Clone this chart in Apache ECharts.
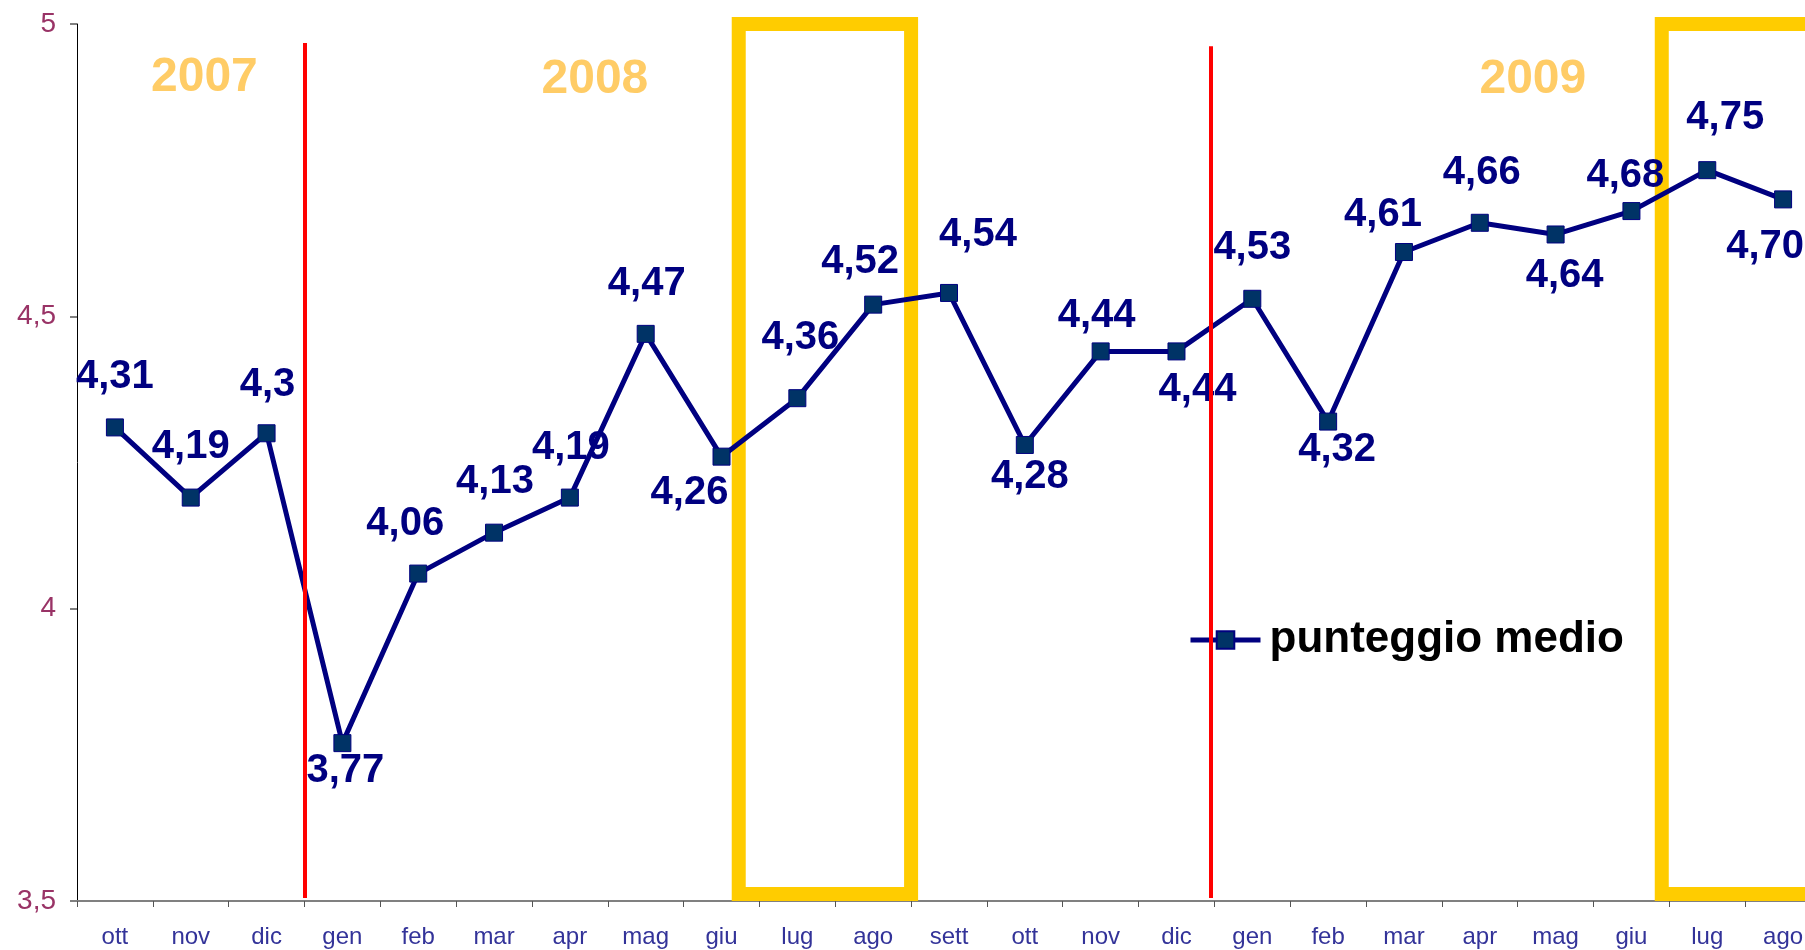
<!DOCTYPE html>
<html>
<head>
<meta charset="utf-8">
<script src="https://cdn.jsdelivr.net/npm/echarts@6/dist/echarts.min.js"></script>
<style>
html,body{margin:0;padding:0;background:#fff;overflow:hidden;}
#chart{width:1805px;height:950px;}
</style>
</head>
<body>
<div id="chart"></div>
<script>
// ---- data ----
const categories = ['ott','nov','dic','gen','feb','mar','apr','mag','giu','lug','ago','sett','ott','nov','dic','gen','feb','mar','apr','mag','giu','lug','ago'];
const values = [4.31,4.19,4.30,3.77,4.06,4.13,4.19,4.47,4.26,4.36,4.52,4.54,4.28,4.44,4.44,4.53,4.32,4.61,4.66,4.64,4.68,4.75,4.70];
const valueLabels = ['4,31','4,19','4,3','3,77','4,06','4,13','4,19','4,47','4,26','4,36','4,52','4,54','4,28','4,44','4,44','4,53','4,32','4,61','4,66','4,64','4,68','4,75','4,70'];
const yTicks = [3.5, 4, 4.5, 5];
const seriesName = 'punteggio medio';
const years = ['2007','2008','2009'];

// ---- annotation geometry (category units on a hidden value axis) ----
const yearPos = [[1.68,4.908],[6.83,4.904],[19.2,4.904]];
const redLines = [[3.0,4.9675],[14.95,4.962]];
const yellowBoxes = [[8.727,11.0],[20.9,23.4]];
const labelOffsets = [[0,-50],[0,-51],[1,-48],[3,28],[-13,-50],[1,-51],[1,-50],[1,-50],[-32,36],[3,-60],[-13,-43],[29,-58],[5,32],[-4,-35],[21,39],[0,-51],[9,28],[-21,-37],[2,-50],[9,41],[-6,-35],[18,-52],[-18,48]];

const FONT = '"Liberation Sans", Arial, sans-serif';
const chart = echarts.init(document.getElementById('chart'));

const seriesData = values.map((v,i)=>({
  value: v,
  label: {offset: labelOffsets[i]}
}));

chart.setOption({
  animation: false,
  backgroundColor: '#ffffff',
  grid: {left: 77, top: 24, right: -16, bottom: 49, containLabel: false, outerBoundsMode: 'none'},
  legend: {
    data: [seriesName],
    left: 1188, top: 618, padding: 0,
    itemWidth: 70, itemHeight: 22,
    lineStyle: {width: 5, color: '#000080'},
    textStyle: {fontFamily: FONT, fontSize: 44, fontWeight: 'bold', color: '#000000', padding: [0,0,0,4]}
  },
  xAxis: [{
    type: 'category',
    data: categories,
    boundaryGap: true,
    axisLine: {lineStyle: {color: '#808080', width: 2}},
    axisTick: {show: true, length: 6, lineStyle: {color: '#555555'}},
    axisLabel: {fontFamily: FONT, fontSize: 24, color: '#333399', margin: 24, interval: 0},
    splitLine: {show: false}
  },{
    type: 'value', min: 0, max: 23, show: false
  }],
  yAxis: {
    type: 'value', min: 3.5, max: 5, interval: 0.5,
    axisLine: {show: true, lineStyle: {color: '#000000', width: 1}},
    axisTick: {show: true, length: 7, lineStyle: {color: '#808080', width: 2}},
    axisLabel: {fontFamily: FONT, fontSize: 28, color: '#993366', margin: 21,
      formatter: v => yTicks.indexOf(v) >= 0 ? String(v).replace('.', ',') : ''},
    splitLine: {show: false}
  },
  series: [{
    name: seriesName,
    type: 'line',
    data: seriesData,
    z: 2,
    symbol: 'rect',
    symbolSize: 17,
    lineStyle: {color: '#000080', width: 5},
    itemStyle: {color: '#003366', borderColor: '#000080', borderWidth: 1},
    label: {
      show: true, position: 'inside',
      fontFamily: FONT, fontSize: 40, fontWeight: 'bold', color: '#000080',
      formatter: p => valueLabels[p.dataIndex]
    }
  },{
    name: 'annotations',
    type: 'line',
    xAxisIndex: 1,
    data: [],
    clip: false,
    z: 5,
    silent: true,
    markArea: {
      silent: true,
      itemStyle: {color: 'rgba(0,0,0,0)', borderColor: '#FFCC00', borderWidth: 14},
      data: yellowBoxes.map(b => [{coord: [b[0], 5.012]}, {coord: [b[1], 3.512]}])
    },
    markLine: {
      silent: true,
      symbol: ['none','none'],
      label: {show: false},
      lineStyle: {color: '#FF0000', width: 4, type: 'solid'},
      data: redLines.map(r => [{coord: [r[0], r[1]]}, {coord: [r[0], 3.505]}])
    },
    markPoint: {
      silent: true,
      symbol: 'rect', symbolSize: 1,
      itemStyle: {color: 'rgba(0,0,0,0)'},
      label: {show: true, position: 'inside', formatter: '{b}',
        fontFamily: FONT, fontSize: 48, fontWeight: 'bold', color: '#FFCC66'},
      data: years.map((y,i) => ({name: y, coord: yearPos[i]}))
    }
  }]
});
</script>
</body>
</html>
